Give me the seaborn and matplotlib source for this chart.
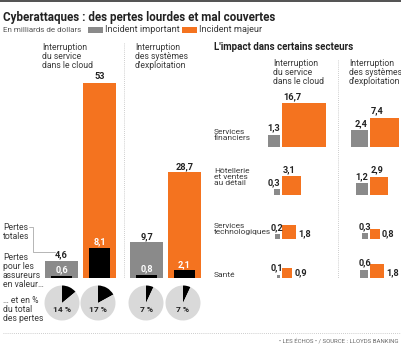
import matplotlib
matplotlib.use("Agg")
import matplotlib.pyplot as plt
from matplotlib.patches import Rectangle
import numpy as np
import pandas as pd
import seaborn as sns

# ---- data (billions of dollars) ----
incident_types = ["Interruption\ndu service\ndans le cloud",
                  "Interruption\ndes systèmes\nd'exploitation"]
incidents = ["Incident important", "Incident majeur"]
total_important = [4.6, 9.7]
total_major = [53, 28.7]
insured_important = [0.6, 0.8]
insured_major = [8.1, 2.1]
pct_important = [14, 7]
pct_major = [17, 7]

sectors = ["Services\nfinanciers", "Hôtellerie\net ventes\nau détail",
           "Services\ntechnologiques", "Santé"]
cloud_important = [1.3, 0.3, 0.2, 0.1]
cloud_major = [16.7, 3.1, 1.8, 0.9]
os_important = [2.4, 1.2, 0.3, 0.6]
os_major = [7.4, 2.9, 0.8, 1.8]

GRAY = "#8a8a8a"
ORANGE = "#f4731f"
PIE_BG = "#d9d9d9"
TXT = "#3a3a3a"
DARK = "#222222"
SEP = "#bdbdbd"
FS = 6.2    # body text
FR = 6.0    # sector row labels
FV = 6.6    # value labels

sns.set_theme(style="white")
plt.rcParams["font.family"] = ["Roboto", "DejaVu Sans"]

W, H = 402, 345
fig = plt.figure(figsize=(W / 100, H / 100), dpi=100)


def px_axes(x0, y0, x1, y1):
    """Axes placed with pixel bounds (y measured from the top)."""
    return fig.add_axes([x0 / W, 1 - y1 / H, (x1 - x0) / W, (y1 - y0) / H])


def fmt(v):
    return f"{v:g}".replace(".", ",")


# ---- main bars: total losses and insured losses ----
df = pd.DataFrame({
    "type": [t for t in incident_types for _ in incidents],
    "incident": incidents * len(incident_types),
    "total": [v for pair in zip(total_important, total_major) for v in pair],
    "insured": [v for pair in zip(insured_important, insured_major) for v in pair],
})

BASE, TOP, YMAX = 278, 57, 60
axb = px_axes(38, TOP, 208, BASE)
width = 0.894
sns.barplot(data=df, x="type", y="total", hue="incident", order=incident_types,
            hue_order=incidents, palette=[GRAY, ORANGE], width=width, gap=0.13,
            saturation=1, errorbar=None, legend=False, linewidth=0, ax=axb)
sns.barplot(data=df, x="type", y="insured", hue="incident", order=incident_types,
            hue_order=incidents, palette=["black", "black"], width=width, gap=0.45,
            saturation=1, errorbar=None, legend=False, linewidth=0, ax=axb)
axb.set_xlim(-0.5, 1.5)
axb.set_ylim(0, YMAX)
axb.set_axis_off()

PT = 72 / 100  # points per pixel
for i in range(len(incident_types)):
    for j, (tot, ins) in enumerate([(total_important[i], insured_important[i]),
                                     (total_major[i], insured_major[i])]):
        cx = i + (j - 0.5) * width / 2
        axb.annotate(fmt(tot), (cx, tot), xytext=(0, 1.5 * PT), textcoords="offset points",
                     ha="center", va="bottom", fontsize=FV, fontweight="bold", color=DARK)
        axb.annotate(fmt(ins), (cx, ins), xytext=(0, 1.5 * PT), textcoords="offset points",
                     ha="center", va="bottom", fontsize=FV, fontweight="bold", color="white")

# ---- pies: insured share of total losses ----
pie_cx = [62, 98, 146, 183]
pie_pct = [pct_important[0], pct_major[0], pct_important[1], pct_major[1]]
R = 17.5
for cx, p in zip(pie_cx, pie_pct):
    axp = px_axes(cx - R, 303 - R, cx + R, 303 + R)
    axp.pie([p, 100 - p], colors=["black", PIE_BG], startangle=90,
            counterclock=False, radius=1, wedgeprops=dict(linewidth=0))
    axp.set_xlim(-1, 1)
    axp.set_ylim(-1, 1)
    axp.set_aspect("equal")
    axp.text(0, -0.4, f"{p} %", ha="center", va="center", fontsize=6,
             fontweight="bold", color=DARK)

# ---- overlay in pixel coordinates ----
ax = fig.add_axes([0, 0, 1, 1], zorder=5)
ax.set_xlim(0, W)
ax.set_ylim(H, 0)
ax.set_axis_off()
ax.patch.set_alpha(0)

# top rule
ax.add_patch(Rectangle((0, 0), W, 2.2, color="#555555", lw=0))

ax.text(3, 17, "Cyberattaques : des pertes lourdes et mal couvertes",
        fontsize=8.4, fontweight="bold", color=DARK, va="center", ha="left")
ax.text(3, 30, "En milliards de dollars", fontsize=5.8, color="#555555", va="center")
ax.add_patch(Rectangle((88, 27), 15, 6, color=GRAY, lw=0))
ax.text(105, 30, incidents[0], fontsize=6.6, color=TXT, va="center")
ax.add_patch(Rectangle((182, 27), 15, 6, color=ORANGE, lw=0))
ax.text(199, 30, incidents[1], fontsize=6.6, color=TXT, va="center")

LS = 1.0
ax.text(42, 43, incident_types[0], fontsize=FS, color=TXT, va="top", linespacing=LS)
ax.text(135, 43, incident_types[1], fontsize=FS, color=TXT, va="top", linespacing=LS)
ax.plot([124, 124], [43, 278], color=SEP, lw=0.6, ls=(0, (1, 1.5)))

ax.text(3, 223, "Pertes\ntotales", fontsize=FS, color=TXT, va="top", linespacing=LS)
ax.plot([29, 33, 33, 55], [227, 227, 252, 252], color="#aaaaaa", lw=0.6)
ax.text(3, 253, "Pertes\npour les\nassureurs\nen valeur…", fontsize=FS, color=TXT,
        va="top", linespacing=LS)
ax.text(3, 296, "… et en %\ndu total\ndes pertes", fontsize=FS, color=TXT,
        va="top", linespacing=LS)

# ---- sector panel ----
ax.text(214, 47, "L'impact dans certains secteurs", fontsize=7, fontweight="bold",
        color=DARK, va="center")
ax.text(273, 59, incident_types[0], fontsize=FS, color=TXT, va="top", linespacing=LS)
ax.text(349, 59, incident_types[1], fontsize=FS, color=TXT, va="top", linespacing=LS)
ax.plot([338, 338], [60, 278], color=SEP, lw=0.6, ls=(0, (1, 1.5)))

row_base = [147, 195, 239, 278]
row_label_top = [129, 168, 223, 272]
K = 10.8  # pixels per sqrt(billion)
cols = [(280, cloud_important, cloud_major), (368, os_important, os_major)]
for r, name in enumerate(sectors):
    ax.text(214, row_label_top[r], name, fontsize=FR, color=TXT, va="top", linespacing=1.0)
    yb = row_base[r]
    for edge, imp, maj in cols:
        si = K * np.sqrt(imp[r])
        sm = K * np.sqrt(maj[r])
        ax.add_patch(Rectangle((edge - si, yb - si), si, si, color=GRAY, lw=0))
        ax.add_patch(Rectangle((edge + 2, yb - sm), sm, sm, color=ORANGE, lw=0))
        if r < 2:
            ax.text(edge, yb - si - 2, fmt(imp[r]), ha="right", va="bottom",
                    fontsize=FV, fontweight="bold", color=DARK)
            ax.text(edge + 3, yb - sm - 2, fmt(maj[r]), ha="left", va="bottom",
                    fontsize=FV, fontweight="bold", color=DARK)
        else:
            ax.text(edge + 3, yb - si - 2, fmt(imp[r]), ha="right", va="bottom",
                    fontsize=FV, fontweight="bold", color=DARK)
            ax.text(edge + 2 + sm + 2, yb - 1, fmt(maj[r]), ha="left", va="bottom",
                    fontsize=FV, fontweight="bold", color=DARK)

# bottom rule and source
ax.plot([3, 400], [333, 333], color=SEP, lw=0.6, ls=(0, (1, 1.5)))
ax.text(399, 341, "• LES ÉCHOS • / SOURCE : LLOYDS BANKING", fontsize=4.3, color="#666666",
        ha="right", va="center")

fig.savefig("out.png", dpi=100)
